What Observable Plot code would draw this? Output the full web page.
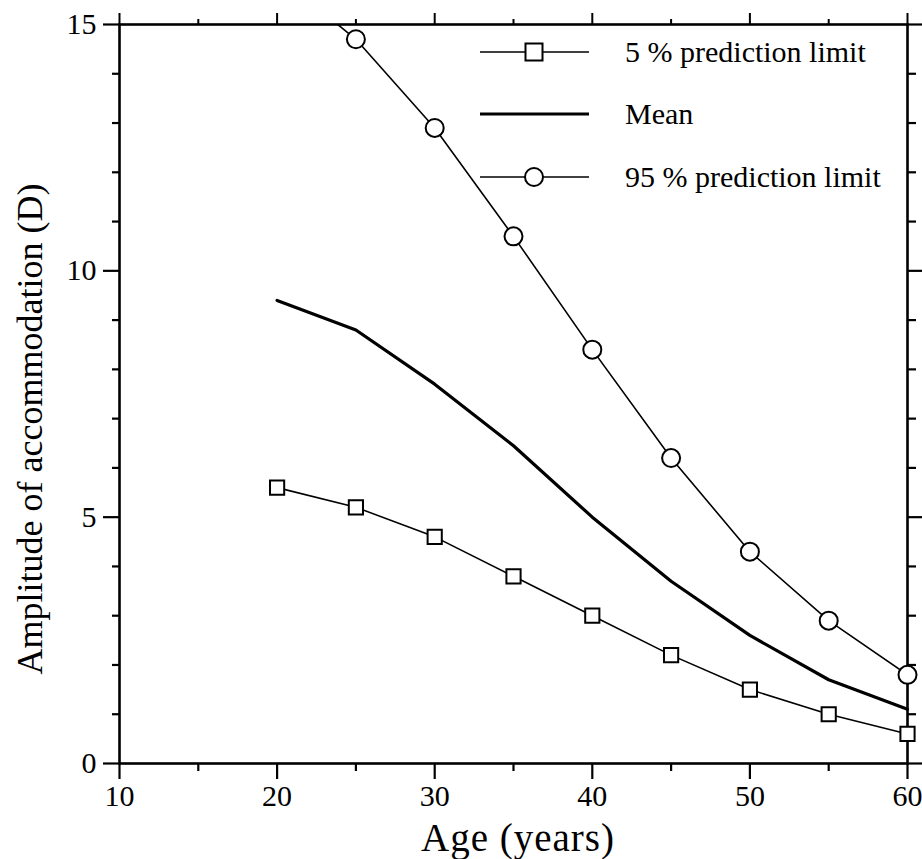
<!DOCTYPE html>
<html><head><meta charset="utf-8">
<script src="https://cdn.jsdelivr.net/npm/d3@7"></script>
<script src="https://cdn.jsdelivr.net/npm/@observablehq/plot@0.6"></script>
<style>body{margin:0;background:#fff} svg{display:block}</style>
</head><body><div id="chart"></div>
<script>
const ages = [20, 25, 30, 35, 40, 45, 50, 55, 60];
const lower5 = [5.6, 5.2, 4.6, 3.8, 3.0, 2.2, 1.5, 1.0, 0.6];
const meanVals = [9.4, 8.8, 7.7, 6.45, 5.0, 3.7, 2.6, 1.7, 1.1];
const upper95 = [16.0, 14.7, 12.9, 10.7, 8.4, 6.2, 4.3, 2.9, 1.8];
const xMajor = [10, 20, 30, 40, 50, 60];
const xMinor = [15, 25, 35, 45, 55];
const yMajor = [0, 5, 10, 15];
const yMinor = [1, 2, 3, 4, 6, 7, 8, 9, 11, 12, 13, 14];
const legendLabels = ["5 % prediction limit", "Mean", "95 % prediction limit"];
const xTitle = "Age (years)";
const yTitle = "Amplitude of accommodation (D)";

const lowData = ages.map((a, i) => ({x: a, y: lower5[i]}));
const meanData = ages.map((a, i) => ({x: a, y: meanVals[i]}));
const upData = ages.map((a, i) => ({x: a, y: upper95[i]}));

const FONT = "'Liberation Serif', 'Times New Roman', serif";
const blank = () => "";

const chart = Plot.plot({
  width: 922,
  height: 859,
  marginLeft: 119,
  marginRight: 15,
  marginTop: 24,
  marginBottom: 96,
  style: {fontFamily: FONT, fontSize: "30px", color: "black", background: "white", overflow: "visible"},
  x: {domain: [10, 60]},
  y: {domain: [0, 15]},
  marks: [
    // bottom axis
    Plot.axisX({ticks: xMajor, tickSize: 16, tickPadding: 5, strokeWidth: 2.2, fontSize: 30, fontFamily: FONT, label: null}),
    Plot.axisX({ticks: xMinor, tickSize: 8, strokeWidth: 2.2, tickFormat: blank, label: null}),
    // top axis
    Plot.axisX({anchor: "top", ticks: xMajor, tickSize: 12, strokeWidth: 2, tickFormat: blank, label: null}),
    Plot.axisX({anchor: "top", ticks: xMinor, tickSize: 6, strokeWidth: 2, tickFormat: blank, label: null}),
    // left axis
    Plot.axisY({ticks: yMajor, tickSize: 16, tickPadding: 7, strokeWidth: 2.2, fontSize: 30, fontFamily: FONT, label: null}),
    Plot.axisY({ticks: yMinor, tickSize: 7, strokeWidth: 2.2, tickFormat: blank, label: null}),
    // right axis
    Plot.axisY({anchor: "right", ticks: yMajor, tickSize: 16, strokeWidth: 2.2, tickFormat: blank, label: null}),
    Plot.axisY({anchor: "right", ticks: yMinor, tickSize: 8, strokeWidth: 2.2, tickFormat: blank, label: null}),
    Plot.frame({stroke: "black", strokeWidth: 2.6}),
    // series
    Plot.line(upData, {x: "x", y: "y", stroke: "black", strokeWidth: 1.6, clip: true}),
    Plot.line(meanData, {x: "x", y: "y", stroke: "black", strokeWidth: 3.2}),
    Plot.line(lowData, {x: "x", y: "y", stroke: "black", strokeWidth: 1.6}),
    Plot.dot(upData, {x: "x", y: "y", filter: d => d.y <= 15, r: 9, fill: "white", stroke: "black", strokeWidth: 2}),
    Plot.dot(lowData, {x: "x", y: "y", symbol: "square", r: 8, fill: "white", stroke: "black", strokeWidth: 2})
  ]
});

document.getElementById("chart").appendChild(chart);

const svg = d3.select(chart);
// axis titles
svg.append("text")
  .attr("x", 518).attr("y", 851)
  .attr("text-anchor", "middle")
  .attr("font-family", FONT).attr("font-size", 39)
  .attr("letter-spacing", 1)
  .attr("fill", "black")
  .text(xTitle);
svg.append("text")
  .attr("transform", "translate(42,429) rotate(-90)")
  .attr("text-anchor", "middle")
  .attr("font-family", FONT).attr("font-size", 36)
  .attr("fill", "black")
  .text(yTitle);

// legend
const rows = [52, 114, 177];
const lg = svg.append("g");
legendLabels.forEach((lab, i) => {
  const y = rows[i];
  lg.append("line").attr("x1", 480).attr("x2", 589).attr("y1", y).attr("y2", y)
    .attr("stroke", "black").attr("stroke-width", i === 1 ? 3.2 : 1.6);
  if (i === 0) {
    lg.append("rect").attr("x", 534 - 8.5).attr("y", y - 8.5).attr("width", 17).attr("height", 17)
      .attr("fill", "white").attr("stroke", "black").attr("stroke-width", 2);
  } else if (i === 2) {
    lg.append("circle").attr("cx", 534).attr("cy", y).attr("r", 9)
      .attr("fill", "white").attr("stroke", "black").attr("stroke-width", 2);
  }
  lg.append("text").attr("x", 625).attr("y", y).attr("dy", "0.32em")
    .attr("text-anchor", "start")
    .attr("font-family", FONT).attr("font-size", 30).attr("fill", "black")
    .text(lab);
});
</script>
</body></html>
